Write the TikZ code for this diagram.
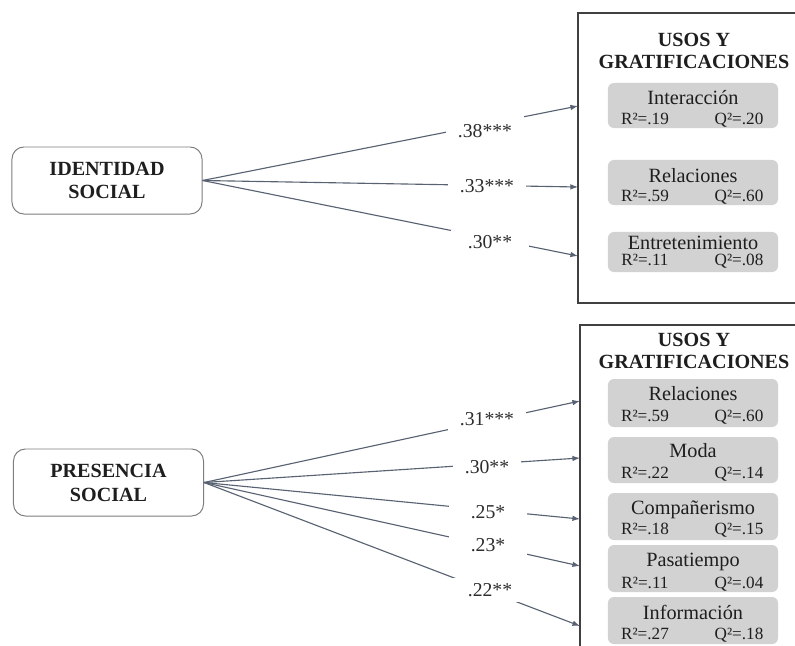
\documentclass[tikz,border=0pt]{standalone}
\usepackage{fontspec}
\setmainfont{Liberation Serif}
\usetikzlibrary{arrows.meta}
\definecolor{linec}{RGB}{88,98,114}
\definecolor{boxfill}{RGB}{210,210,210}
\definecolor{framec}{RGB}{64,64,64}
\definecolor{rbc}{RGB}{125,125,125}
\definecolor{txt}{RGB}{30,30,30}
\definecolor{labc}{RGB}{45,45,45}
\begin{document}
\begin{tikzpicture}[x=0.025cm,y=-0.025cm,
  srcbox/.style={draw=rbc, line width=0.7pt, rounded corners=0.3cm, fill=white,
    minimum width=4.75cm, minimum height=1.675cm, align=center, inner sep=0pt,
    font=\fontsize{14.3}{17}\selectfont\bfseries, text=txt},
  bigbox/.style={draw=framec, line width=1pt},
  hdr/.style={align=center, inner sep=0pt, font=\fontsize{14.3}{15.8}\selectfont\bfseries, text=txt},
  gbox/.style={fill=boxfill, rounded corners=0.15cm, minimum width=4.25cm, inner sep=0pt},
  namef/.style={anchor=base, inner sep=0pt, font=\fontsize{14.4}{17}\selectfont, text=txt},
  statf/.style={anchor=base, inner sep=0pt, font=\fontsize{12.2}{14}\selectfont, text=txt},
  conn/.style={draw=linec, line width=0.8pt, -{Latex[length=0.19cm,width=0.14cm]}},
  lab/.style={fill=white, inner sep=0pt, minimum width=1.95cm, minimum height=0.6cm,
    font=\fontsize{14}{16}\selectfont, text=labc}
]
\useasboundingbox (0,0) rectangle (795,645);
\clip (0,0) rectangle (795,645);

% ---------- top panel ----------
\draw[bigbox] (800,13) -- (578,13) -- (578,303) -- (800,303);
\node[hdr] (th) at (694,51) {USOS Y\\GRATIFICACIONES};

\node[gbox, minimum height=1.125cm] (g1) at (693,105.5) {};
\node[namef] (g1n) at (693,104) {Interacción};
\node[statf] (g1r) at (645,124) {R²=.19};
\node[statf] (g1q) at (739,124) {Q²=.20};

\node[gbox, minimum height=1.125cm] (g2) at (693,182.5) {};
\node[namef] (g2n) at (693,182) {Relaciones};
\node[statf] (g2r) at (645,201) {R²=.59};
\node[statf] (g2q) at (739,201) {Q²=.60};

\node[gbox, minimum height=1.0cm] (g3) at (693,252) {};
\node[namef] (g3n) at (693,249) {Entretenimiento};
\node[statf] (g3r) at (645,265) {R²=.11};
\node[statf] (g3q) at (739,265) {Q²=.08};

\node[srcbox] (ibox) at (107,180.5) {IDENTIDAD\\SOCIAL};

\coordinate (ta1) at (578,106);
\coordinate (ta2) at (578,187);
\coordinate (ta3) at (578,256);
\draw[conn] (ibox.east) -- (ta1);
\draw[conn] (ibox.east) -- (ta2);
\draw[conn] (ibox.east) -- (ta3);
\node[lab, minimum height=0.75cm] (l1) at (485,131) {.38***};
\node[lab] (l2) at (487,186) {.33***};
\node[lab] (l3) at (490,242) {.30**};

% ---------- bottom panel ----------
\draw[bigbox] (800,325) -- (580,325) -- (580,660);
\node[hdr] (bh) at (694,351) {USOS Y\\GRATIFICACIONES};

\node[gbox, minimum height=1.2cm] (b1) at (693,403) {};
\node[namef] (b1n) at (693,400) {Relaciones};
\node[statf] (b1r) at (645,421) {R²=.59};
\node[statf] (b1q) at (739,421) {Q²=.60};

\node[gbox, minimum height=1.15cm] (b2) at (693,460) {};
\node[namef] (b2n) at (693,457) {Moda};
\node[statf] (b2r) at (645,478) {R²=.22};
\node[statf] (b2q) at (739,478) {Q²=.14};

\node[gbox, minimum height=1.175cm] (b3) at (693,516.5) {};
\node[namef] (b3n) at (693,514) {Compañerismo};
\node[statf] (b3r) at (645,534) {R²=.18};
\node[statf] (b3q) at (739,534) {Q²=.15};

\node[gbox, minimum height=1.175cm] (b4) at (693,568.5) {};
\node[namef] (b4n) at (693,566) {Pasatiempo};
\node[statf] (b4r) at (645,588) {R²=.11};
\node[statf] (b4q) at (739,588) {Q²=.04};

\node[gbox, minimum height=1.175cm] (b5) at (693,620.5) {};
\node[namef] (b5n) at (693,619) {Información};
\node[statf] (b5r) at (645,639) {R²=.27};
\node[statf] (b5q) at (739,639) {Q²=.18};

\node[srcbox] (pbox) at (108.5,482.5) {PRESENCIA\\SOCIAL};

\coordinate (pa1) at (580,401);
\coordinate (pa2) at (580,458);
\coordinate (pa3) at (580,519);
\coordinate (pa4) at (580,566);
\coordinate (pa5) at (580,626);
\draw[conn] (pbox.east) -- (pa1);
\draw[conn] (pbox.east) -- (pa2);
\draw[conn] (pbox.east) -- (pa3);
\draw[conn] (pbox.east) -- (pa4);
\draw[conn] (pbox.east) -- (pa5);
\node[lab] (m1) at (487,419) {.31***};
\node[lab, minimum width=1.675cm] (m2) at (487,467) {.30**};
\node[lab] (m3) at (488,512) {.25*};
\node[lab] (m4) at (488,545) {.23*};
\node[lab] (m5) at (490,590) {.22**};
\end{tikzpicture}
\end{document}
